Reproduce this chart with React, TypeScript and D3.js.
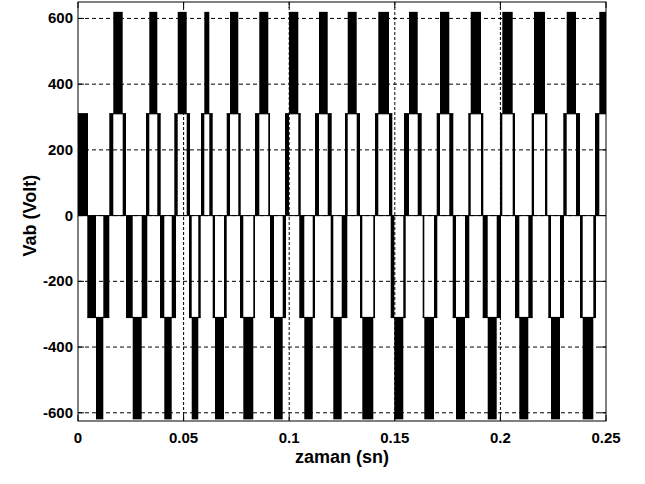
// @ts-nocheck
import React from "react";
import { scaleLinear } from "d3";

// half cycles: [start, barStart, barEnd, end] in seconds
const positiveHalves = [
  [0, 0.00473, 0.00473, 0.00473],
  [0.01482, 0.01671, 0.02116, 0.02273],
  [0.0322, 0.03376, 0.03755, 0.03916],
  [0.0456, 0.04721, 0.05147, 0.05303],
  [0.05824, 0.0598, 0.06217, 0.06378],
  [0.07041, 0.07197, 0.0759, 0.07704],
  [0.08381, 0.08584, 0.0901, 0.09091],
  [0.09801, 0.09991, 0.10431, 0.10545],
  [0.11222, 0.11411, 0.11823, 0.12012],
  [0.12642, 0.1277, 0.13196, 0.13352],
  [0.14063, 0.14219, 0.14725, 0.14882],
  [0.15436, 0.15672, 0.16084, 0.16274],
  [0.16984, 0.1714, 0.1758, 0.1777],
  [0.1848, 0.18594, 0.19081, 0.1919],
  [0.19981, 0.2009, 0.20582, 0.20691],
  [0.21482, 0.21591, 0.22112, 0.22221],
  [0.22978, 0.23139, 0.2358, 0.23769],
  [0.24479, 0.24683, 0.25, 0.25],
];

const negativeHalves = [
  [0.0044, 0.00852, 0.01198, 0.01482],
  [0.02273, 0.0259, 0.03016, 0.03281],
  [0.03883, 0.04086, 0.04437, 0.0464],
  [0.05256, 0.05384, 0.05696, 0.0581],
  [0.06378, 0.06487, 0.06913, 0.07041],
  [0.0767, 0.07827, 0.083, 0.08381],
  [0.09091, 0.0928, 0.09692, 0.09848],
  [0.10478, 0.10715, 0.11113, 0.11222],
  [0.11965, 0.12088, 0.12486, 0.12751],
  [0.13352, 0.13461, 0.13982, 0.14063],
  [0.14806, 0.14976, 0.15402, 0.15516],
  [0.16321, 0.16397, 0.16856, 0.17012],
  [0.17741, 0.17898, 0.18324, 0.18527],
  [0.19162, 0.19399, 0.19825, 0.20028],
  [0.20691, 0.20895, 0.21321, 0.21529],
  [0.22268, 0.22396, 0.22822, 0.23011],
  [0.23769, 0.23897, 0.24399, 0.24527],
];

const stepLevel = 310;
const peakLevel = 620;

const xTicks = [0, 0.05, 0.1, 0.15, 0.2, 0.25];
const xTickLabels = ["0", "0.05", "0.1", "0.15", "0.2", "0.25"];
const yTicks = [-600, -400, -200, 0, 200, 400, 600];

const W = 645;
const H = 484;
const left = 78;
const right = 606;
const top = 2;
const bottom = 421;
const font = "'Liberation Sans', Arial, sans-serif";

export default function App() {
  const x = scaleLinear().domain([0, 0.25]).range([left, right]);
  const y = scaleLinear().domain([-625, 650]).range([bottom, top]);

  const half = (h, sign, key) => {
    const [a, b, c, d] = h;
    const s1 = sign * stepLevel;
    const s2 = sign * peakLevel;
    const band = (t0, t1, v0, v1, k) => (
      <rect
        key={k}
        x={x(t0)}
        width={Math.max(x(t1) - x(t0), 0.8)}
        y={Math.min(y(v0), y(v1))}
        height={Math.abs(y(v1) - y(v0))}
        fill="#000"
      />
    );
    return (
      <g key={key}>
        {band(a, b, 0, s1, "l")}
        {c > b ? band(b, c, s1, s2, "m") : null}
        {d > c ? band(c, d, 0, s1, "r") : null}
        <line x1={x(a)} x2={x(d)} y1={y(s1)} y2={y(s1)} stroke="#000" strokeWidth={1.2} />
      </g>
    );
  };

  return (
    <svg width={W} height={H} style={{ position: "absolute", left: 0, top: 0, background: "#fff" }}>
      <rect x={0} y={0} width={W} height={H} fill="#fff" />
      <defs>
        <clipPath id="plot">
          <rect x={left} y={top} width={right - left} height={bottom - top} />
        </clipPath>
      </defs>

      {/* grid */}
      {yTicks.map((v) => (
        <line key={"gy" + v} x1={left} x2={right} y1={y(v)} y2={y(v)} stroke="#000" strokeWidth={1} strokeDasharray="4,3" />
      ))}
      {xTicks.slice(1, -1).map((t) => (
        <line key={"gx" + t} x1={x(t)} x2={x(t)} y1={top} y2={bottom} stroke="#000" strokeWidth={1} strokeDasharray="3,2" />
      ))}

      <g clipPath="url(#plot)">
        <line x1={left} x2={right} y1={y(0)} y2={y(0)} stroke="#000" strokeWidth={1} />
        {positiveHalves.map((h, i) => half(h, 1, "p" + i))}
        {negativeHalves.map((h, i) => half(h, -1, "n" + i))}
      </g>

      {/* axes box and inward ticks */}
      <rect x={left} y={top} width={right - left} height={bottom - top} fill="none" stroke="#000" strokeWidth={1} />
      {xTicks.map((t) => (
        <g key={"tx" + t}>
          <line x1={x(t)} x2={x(t)} y1={bottom} y2={bottom - 6} stroke="#000" />
          <line x1={x(t)} x2={x(t)} y1={top} y2={top + 6} stroke="#000" />
        </g>
      ))}
      {yTicks.map((v) => (
        <g key={"ty" + v}>
          <line x1={left} x2={left + 6} y1={y(v)} y2={y(v)} stroke="#000" />
          <line x1={right} x2={right - 6} y1={y(v)} y2={y(v)} stroke="#000" />
        </g>
      ))}

      {/* tick labels */}
      {xTicks.map((t, i) => (
        <text key={"lx" + t} x={x(t)} y={443} textAnchor="middle" fontFamily={font} fontWeight="bold" fontSize={15}>
          {xTickLabels[i]}
        </text>
      ))}
      {yTicks.map((v) => (
        <text key={"ly" + v} x={73} y={y(v) + 5} textAnchor="end" fontFamily={font} fontWeight="bold" fontSize={15}>
          {v}
        </text>
      ))}

      <text x={342} y={463} textAnchor="middle" fontFamily={font} fontWeight="bold" fontSize={18}>
        zaman (sn)
      </text>
      <text
        transform={`translate(36,${y(0)}) rotate(-90)`}
        textAnchor="middle"
        fontFamily={font}
        fontWeight="bold"
        fontSize={18}
      >
        Vab (Volt)
      </text>
    </svg>
  );
}
